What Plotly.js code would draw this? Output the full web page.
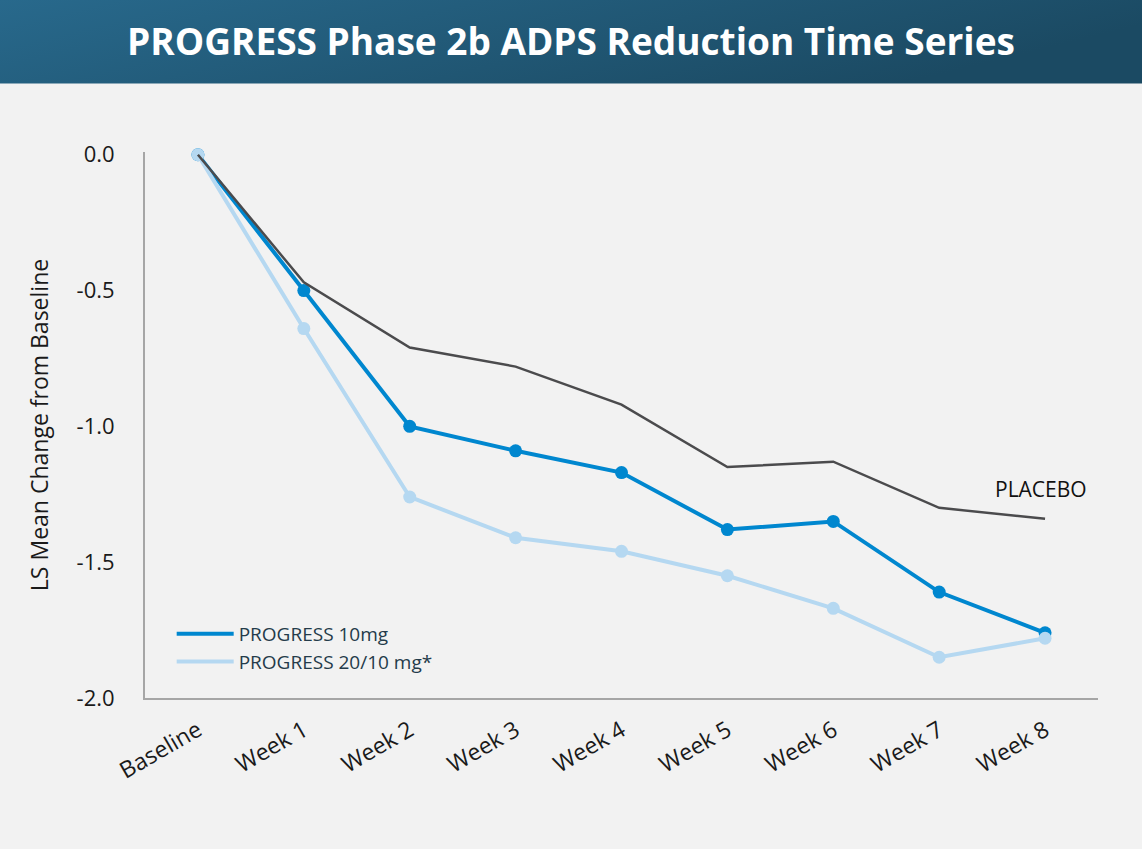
<!DOCTYPE html>
<html><head><meta charset="utf-8">
<script src="https://cdn.plot.ly/plotly-3.0.1.min.js"></script>
<style>html,body{margin:0;padding:0;background:#f2f2f2;}#chart{width:1142px;height:849px;}</style>
</head><body><div id="chart"></div>
<script>
const categories = ["Baseline","Week 1","Week 2","Week 3","Week 4","Week 5","Week 6","Week 7","Week 8"];
const progress10 = [0, -0.50, -1.00, -1.09, -1.17, -1.38, -1.35, -1.61, -1.76];
const progress2010 = [0, -0.64, -1.26, -1.41, -1.46, -1.55, -1.67, -1.85, -1.78];
const placebo = [0, -0.47, -0.71, -0.78, -0.92, -1.15, -1.13, -1.30, -1.34];
const yTicks = [0, -0.5, -1.0, -1.5, -2.0];
const yTickLabels = ["0.0","-0.5","-1.0","-1.5","-2.0"];

const font = "Open Sans, sans-serif";
const c10 = "#0087cf", c2010 = "#b5d8f1", cPl = "#4b4b4d";
const svg = '<svg xmlns="http://www.w3.org/2000/svg" width="1142" height="83" preserveAspectRatio="none"><defs><linearGradient id="g" x1="0" y1="0" x2="1" y2="0.3"><stop offset="0" stop-color="#28698c"/><stop offset="1" stop-color="#1b4a63"/></linearGradient></defs><rect width="1142" height="83" fill="url(#g)"/></svg>';
const svgUri = 'data:image/svg+xml;charset=utf-8,' + encodeURIComponent(svg);

const data = [
  {x: categories, y: progress10, name: "PROGRESS 10mg", mode: "lines+markers", showlegend: false,
   line: {color: c10, width: 4}, marker: {color: c10, size: 13}, cliponaxis: false},
  {x: categories, y: progress2010, name: "PROGRESS 20/10 mg*", mode: "lines+markers", showlegend: false,
   line: {color: c2010, width: 4}, marker: {color: c2010, size: 13}, cliponaxis: false},
  {x: categories, y: placebo, name: "PLACEBO", mode: "lines", showlegend: false,
   line: {color: cPl, width: 2.5}, cliponaxis: false},
  // legend entries (lines only, as in the reference legend)
  {x: [null], y: [null], name: "PROGRESS 10mg", mode: "lines", line: {color: c10, width: 4}},
  {x: [null], y: [null], name: "PROGRESS 20/10 mg*", mode: "lines", line: {color: c2010, width: 4}}
];

const layout = {
  width: 1142, height: 849,
  paper_bgcolor: "#f2f2f2", plot_bgcolor: "rgba(0,0,0,0)",
  margin: {l: 145, r: 44, t: 152, b: 151},
  font: {family: font, color: "#262626"},
  title: {text: "<b>PROGRESS Phase 2b ADPS Reduction Time Series</b>",
    font: {family: font, size: 37, color: "#ffffff"},
    x: 0.5, xanchor: "center", xref: "container", y: 1 - 42/849, yanchor: "middle", yref: "container"},
  images: [{source: svgUri, xref: "paper", yref: "paper", x: -145/953, y: 698/545.7,
    sizex: 1142/953, sizey: 84/545.7, xanchor: "left", yanchor: "top", sizing: "stretch", layer: "below"}],
  xaxis: {type: "category", range: [-0.5, 8.5], showgrid: false, zeroline: false,
    showline: true, linecolor: "#a6a6a6", linewidth: 2, ticks: "", tickangle: -30,
    tickfont: {family: font, size: 23, color: "#1a1a1a"}, ticklabelstandoff: 8, fixedrange: true},
  yaxis: {range: [-2, 0.01], tickvals: yTicks, ticktext: yTickLabels, showgrid: false, zeroline: false,
    showline: true, linecolor: "#a6a6a6", linewidth: 2, ticks: "",
    tickfont: {family: font, size: 22, color: "#1a1a1a"}, ticklabelstandoff: 24,
    title: {text: "LS Mean Change from Baseline", font: {family: font, size: 23, color: "#1a1a1a"}, standoff: 22}},
  legend: {x: 0.028, y: 0.152, xanchor: "left", yanchor: "top", bgcolor: "rgba(0,0,0,0)",
    font: {family: font, size: 19, color: "#243b4a"}, itemwidth: 57, tracegroupgap: 0},
  annotations: [{x: "Week 8", y: -1.23, xref: "x", yref: "y", text: "PLACEBO", showarrow: false,
    xanchor: "center", yanchor: "middle", xshift: -4, font: {family: font, size: 21, color: "#111111"}}]
};
Plotly.newPlot("chart", data, layout, {displayModeBar: false, staticPlot: true});
</script></body></html>
